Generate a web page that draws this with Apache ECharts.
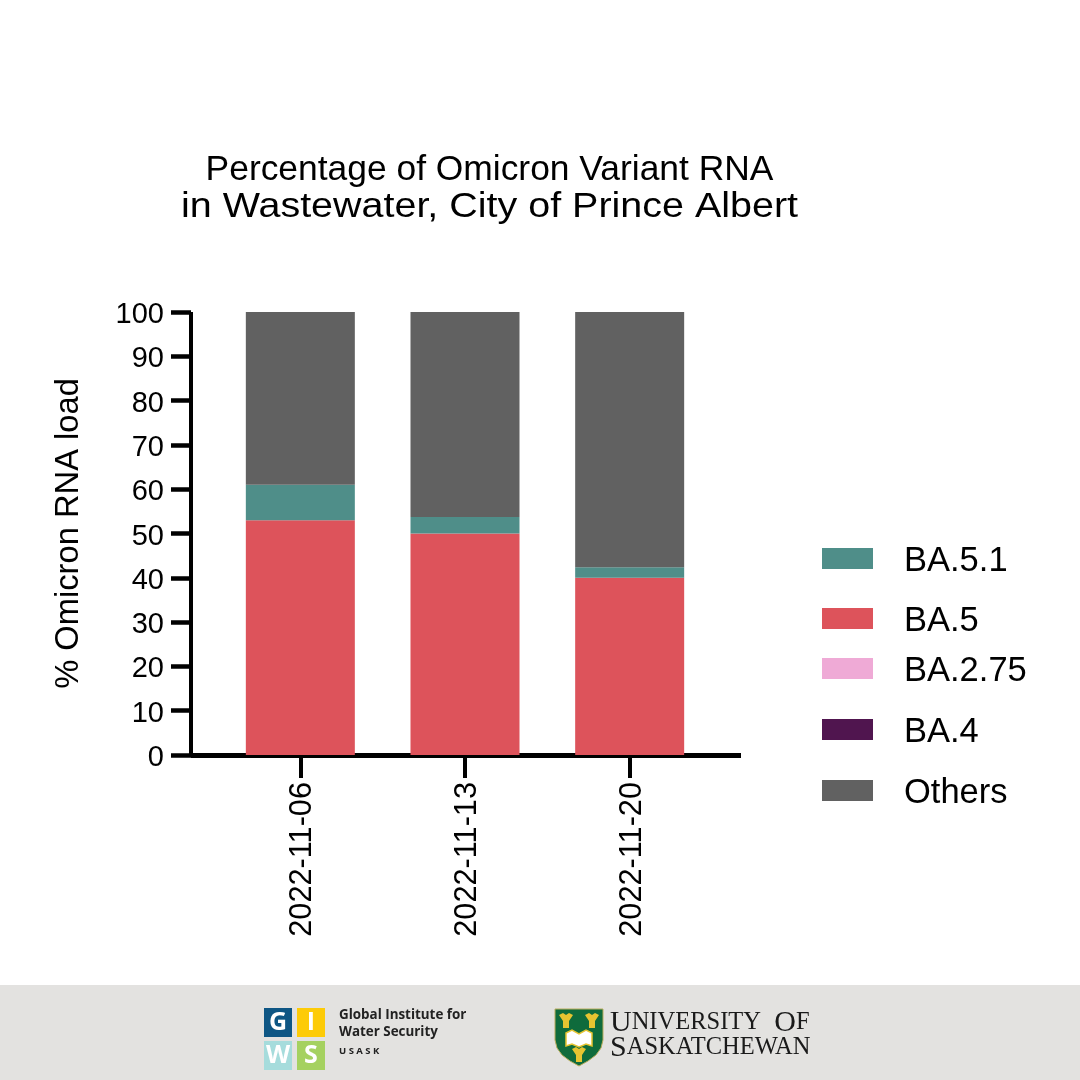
<!DOCTYPE html>
<html>
<head>
<meta charset="utf-8">
<style>
html, body { margin: 0; padding: 0; background: #fff; }
#main { width: 1080px; height: 1080px; }
</style>
<script src="https://cdn.jsdelivr.net/npm/echarts@6/dist/echarts.min.js"></script>
</head>
<body>
<div id="main"></div>
<script>
var categories = ['2022-11-06', '2022-11-13', '2022-11-20'];
var ba5 = [53, 50, 40];
var ba51 = [8, 3.7, 2.4];
var ba275 = [0, 0, 0];
var ba4 = [0, 0, 0];
var others = [39, 46.3, 57.6];
var yTicks = [0, 100, 10];

var font = '"Liberation Sans", Arial, sans-serif';
var colors = { ba51: '#4f8e89', ba5: '#dd535b', ba275: '#efaad6', ba4: '#50154f', others: '#616161' };

function bar(name, values, color) {
	return {
		name: name, type: 'bar', stack: 'total', barWidth: 109,
		xAxisIndex: 0, yAxisIndex: 0,
		itemStyle: { color: color },
		data: values
	};
}

// legend entries are not evenly spaced in the reference, so one legend each
function legendItem(name, top) {
	return {
		data: [{ name: name, icon: 'rect' }], left: 817, top: top, orient: 'vertical',
		selectedMode: false, itemWidth: 51, itemHeight: 21,
		formatter: '{t|{name}}',
		textStyle: {
			padding: [0, 0, 0, 26],
			rich: { t: { fontFamily: font, fontSize: 34.5, color: '#000', padding: [6, 0, 0, 0] } }
		}
	};
}

function rect(x, y, w, h, color) {
	return { type: 'rect', shape: { x: x, y: y, width: w, height: h }, style: { fill: color }, silent: true };
}
function poly(points, fill, stroke, width) {
	return { type: 'polygon', shape: { points: points }, style: { fill: fill, stroke: stroke, lineWidth: width || 0 }, silent: true };
}
function label(x, y, text, size, color, family, weight) {
	return {
		type: 'text', x: x, y: y,
		style: { text: text, fontSize: size, fill: color, fontFamily: family, fontWeight: weight || 'normal', align: 'left', verticalAlign: 'middle' }
	};
}
function tile(x, y, letter, color) {
	return [
		rect(x, y, 28, 29, color),
		{ type: 'text', x: x + 14, y: y + 15, style: { text: letter, fontSize: 25, fill: '#fff', fontFamily: '"Open Sans"', fontWeight: 'bold', align: 'center', verticalAlign: 'middle' } }
	];
}
function sheaf(x, y) {
	return poly([[x - 7, y - 6], [x - 3, y], [x - 3, y + 7], [x + 3, y + 7], [x + 3, y], [x + 7, y - 6], [x + 3, y - 8], [x, y - 6], [x - 3, y - 8]], '#e6c431');
}
function serif(y, text) {
	return {
		type: 'text', x: 610, y: y,
		style: {
			text: text, fill: '#1a1a1a', align: 'left', verticalAlign: 'middle',
			rich: { a: { fontSize: 30, fontFamily: '"Liberation Serif"', fill: '#1a1a1a' }, b: { fontSize: 24.5, fontFamily: '"Liberation Serif"', fill: '#1a1a1a' } }
		}
	};
}

var footer = [rect(0, 985, 1080, 95, '#e3e2e0')]
	.concat(tile(264, 1008, 'G', '#0e5684'))
	.concat(tile(297, 1008, 'I', '#fdcb07'))
	.concat(tile(264, 1041, 'W', '#a6dcdc'))
	.concat(tile(297, 1041, 'S', '#a5d160'))
	.concat([
		label(339, 1015, 'Global Institute for', 13.4, '#222', '"Open Sans"', 'bold'),
		label(339, 1032, 'Water Security', 13.4, '#222', '"Open Sans"', 'bold'),
		label(339, 1051, 'U S A S K', 9.5, '#222', '"Open Sans"', 'bold'),
		poly([[555, 1009], [603, 1009], [603, 1040], [601, 1048], [596, 1055], [588, 1061], [579, 1066], [570, 1061], [562, 1055], [557, 1048], [555, 1040]], '#0f6b3c', '#b9ad5c', 1),
		sheaf(566, 1021),
		sheaf(592, 1021),
		sheaf(579, 1055),
		poly([[566, 1033], [572, 1030], [579, 1034], [586, 1030], [592, 1033], [592, 1046], [586, 1044], [579, 1047], [572, 1044], [566, 1046]], '#fff', '#e6c431', 1.5),
		serif(1023, '{a|U}{b|NIVERSITY}    {a|O}{b|F}'),
		serif(1048, '{a|S}{b|ASKATCHEWAN}'),
		// second title line is set wider than the first in the reference
		{
			type: 'text', x: 489.5, y: 207, scaleX: 1.115,
			style: { text: 'in Wastewater, City of Prince Albert', fontFamily: font, fontSize: 35.4, fill: '#000', align: 'center', verticalAlign: 'middle' }
		}
	]);

var option = {
	animation: false,
	backgroundColor: '#fff',
	title: {
		text: 'Percentage of Omicron Variant RNA',
		top: 148, textAlign: 'center', left: 484.5,
		textStyle: { fontFamily: font, fontSize: 35.4, fontWeight: 'normal', color: '#000' }
	},
	legend: [
		legendItem('BA.5.1', 539),
		legendItem('BA.5', 599),
		legendItem('BA.2.75', 649),
		legendItem('BA.4', 710),
		legendItem('Others', 771)
	],
	grid: [
		{ left: 218, width: 494, top: 312, height: 443 },
		{ left: 191, width: 550, top: 312, height: 443 }
	],
	xAxis: [
		{
			type: 'category', gridIndex: 0, data: categories,
			axisLine: { show: false },
			axisTick: { show: true, alignWithLabel: true, length: 23, lineStyle: { color: '#000', width: 4 } },
			axisLabel: {
				rotate: 90, margin: 27, interval: 0,
				formatter: '{t|{value}}',
				rich: { t: { fontFamily: font, fontSize: 30.7, color: '#000', padding: [5, 0, 0, 0] } }
			}
		},
		{
			// long baseline that runs past the bars on both sides
			type: 'category', gridIndex: 1, data: [],
			axisLine: { lineStyle: { color: '#000', width: 5, cap: 'butt' } },
			axisTick: { show: false }, axisLabel: { show: false }
		}
	],
	yAxis: [
		{ type: 'value', gridIndex: 0, min: yTicks[0], max: yTicks[1], show: false },
		{
			type: 'value', gridIndex: 1, min: yTicks[0], max: yTicks[1], interval: yTicks[2],
			name: '% Omicron RNA load', nameLocation: 'middle', nameGap: 106,
			nameTextStyle: { fontFamily: font, fontSize: 32.7, color: '#000' },
			axisLine: { show: true, lineStyle: { color: '#000', width: 4, cap: 'butt' } },
			axisTick: { show: true, length: 20, lineStyle: { color: '#000', width: 4.5 } },
			axisLabel: {
				margin: 27,
				formatter: '{t|{value}}',
				rich: { t: { fontFamily: font, fontSize: 29, color: '#000', padding: [6, 0, 0, 0] } }
			},
			splitLine: { show: false }
		}
	],
	series: [
		bar('BA.5', ba5, colors.ba5),
		bar('BA.5.1', ba51, colors.ba51),
		bar('BA.2.75', ba275, colors.ba275),
		bar('BA.4', ba4, colors.ba4),
		bar('Others', others, colors.others)
	],
	graphic: footer
};

var myChart = echarts.init(document.getElementById('main'));
myChart.setOption(option);
</script>
</body>
</html>
